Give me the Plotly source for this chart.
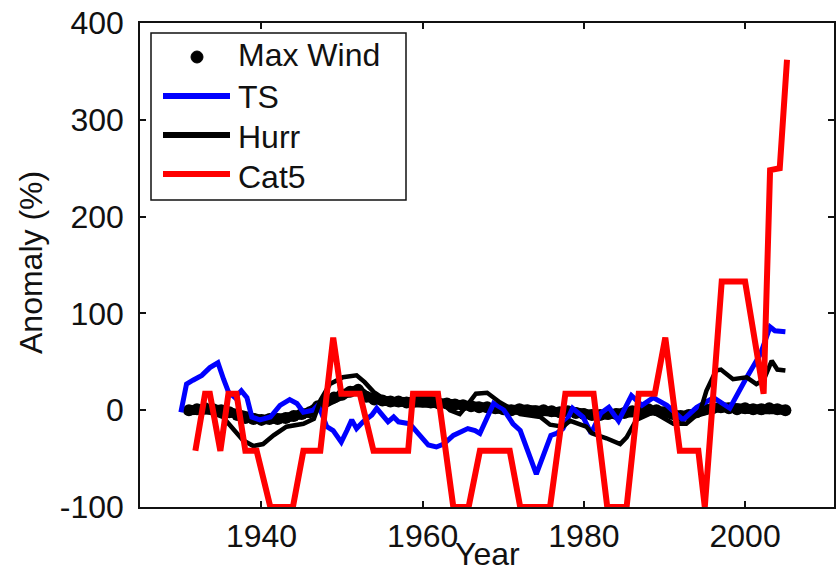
import plotly.graph_objects as go

# ---- data -----------------------------------------------------------------
# Max wind speed anomaly (%), annual
wind_years = list(range(1931, 2006))
max_wind = [0, 1, 2, 1, 0, -2, -5, -8, -9, -10,
            -9, -9, -8, -6, -4, -2, 4, 9, 13, 16,
            19, 21, 14, 11, 10, 9, 9, 8, 9, 9,
            8, 7, 7, 6, 5, 4, 3, 3, 2, 1,
            0, 1, 0, -1, 0, -1, -2, -1, -3, -4,
            -5, -5, -4, -4, -3, -1, 0, 1, 0, -2,
            -4, -6, -5, -2, 1, 2, 3, 2, 1, 2,
            1, 1, 2, 1, 0]

# Tropical storm count anomaly (%)
ts_years = [1930.0, 1930.7, 1931.5, 1932.6, 1933.6, 1934.6, 1935.3, 1935.9,
            1936.7, 1937.5, 1938.2, 1938.8, 1939.8, 1941.1, 1942.3, 1943.5,
            1944.4, 1945.2, 1946.4, 1947.0, 1947.5, 1948.1, 1948.9, 1949.9,
            1950.6, 1951.2, 1951.8, 1952.6, 1953.7, 1954.3, 1954.9, 1955.7,
            1956.4, 1957.0, 1958.4, 1959.5, 1960.7, 1961.7, 1962.6, 1963.8,
            1965.6, 1966.5, 1967.1, 1968.8, 1970.0, 1971.2, 1972.1, 1974.1,
            1975.9, 1976.6, 1977.4, 1978.6, 1979.9, 1980.9, 1982.1, 1983.1,
            1984.3, 1985.9, 1987.2, 1988.6, 1990.3, 1992.3, 1994.0, 1996.1,
            1998.1, 2000.0, 2001.9, 2003.1, 2003.7, 2005.0]
ts = [-2, 27, 31, 36, 44, 49, 32, 19,
      13, 20, 13, -7, -10, -7, 5, 11,
      7, -2, 0, 5, -4, -17, -21, -33,
      -21, -10, -19, -12, -5, 2, -4, -12,
      -7, -12, -14, -24, -36, -38, -35, -26,
      -19, -21, -24, 7, 1, -14, -21, -66,
      -26, -24, -19, 2, -7, -24, -3, 3,
      -11, 15, 5, 13, 5, -10, 3, 13,
      2, 31, 58, 86, 82, 81]

# Hurricane count anomaly (%)
hurr_years = [1931.4, 1933.0, 1934.3, 1935.2, 1936.3, 1937.7, 1939.0, 1940.2,
              1941.5, 1943.1, 1945.2, 1946.5, 1947.3, 1948.5, 1950.1, 1951.8,
              1952.8, 1953.9, 1955.5, 1957.5, 1959.7, 1961.9, 1963.4, 1964.6,
              1965.5, 1966.6, 1968.0, 1969.6, 1972.1, 1974.6, 1975.8, 1977.4,
              1978.3, 1980.3, 1981.0, 1982.8, 1984.5, 1985.3, 1986.5, 1988.6,
              1991.1, 1992.7, 1994.4, 1995.2, 1996.4, 1997.0, 1998.5, 2000.2,
              2001.4, 2002.3, 2003.3, 2004.0, 2005.0]
hurr = [2, -1, -4, -7, -17, -31, -37, -35,
        -26, -17, -14, -9, 10, 27, 34, 36,
        29, 19, 10, 10, 13, 12, 0, -4,
        5, 17, 18, 8, -4, -7, -15, -17,
        -11, -17, -24, -29, -35, -28, -10, -2,
        -14, -14, -2, 20, 41, 42, 32, 34,
        27, 31, 51, 42, 41]

# Category 5 count anomaly (%)
cat5_years = [1931.8, 1933.0, 1933.6, 1934.9, 1935.9, 1936.9, 1938.0, 1939.4,
              1941.1, 1943.9, 1945.2, 1947.3, 1948.9, 1949.9, 1952.2, 1953.9,
              1958.2, 1958.8, 1961.9, 1963.8, 1965.7, 1967.1, 1970.8, 1972.1,
              1975.8, 1977.7, 1981.2, 1982.9, 1985.3, 1986.8, 1988.8, 1990.1,
              1991.9, 1994.2, 1995.0, 1997.1, 2000.0, 2002.3, 2003.1, 2004.3,
              2005.2]
cat5 = [-42, 17, 17, -42, 17, 17, -42, -42,
        -100, -100, -42, -42, 75, 17, 17, -42,
        -42, 17, 17, -100, -100, -42, -42, -100,
        -100, 17, 17, -100, -100, 17, 17, 75,
        -42, -42, -100, 133, 133, 17, 248, 250,
        362]

x_ticks = [1940, 1960, 1980, 2000]
y_ticks = [-100, 0, 100, 200, 300, 400]
y_tick_text = ["-100", "0", "100", "200", "300", "400"]
legend_labels = ["Max Wind", "TS", "Hurr", "Cat5"]
x_title = "Year"
y_title = "Anomaly (%)"

FONT = "Liberation Sans, Arial, Helvetica, sans-serif"
INK = "#111111"

fig = go.Figure()
fig.add_trace(go.Scatter(x=wind_years, y=max_wind, mode="lines+markers",
                         name=legend_labels[0], showlegend=False,
                         line=dict(color="black", width=10),
                         marker=dict(color="black", size=12)))
fig.add_trace(go.Scatter(x=ts_years, y=ts, mode="lines", name=legend_labels[1],
                         showlegend=False, line=dict(color="#0000ff", width=5)))
fig.add_trace(go.Scatter(x=hurr_years, y=hurr, mode="lines", name=legend_labels[2],
                         showlegend=False, line=dict(color="black", width=4.5)))
fig.add_trace(go.Scatter(x=cat5_years, y=cat5, mode="lines", name=legend_labels[3],
                         showlegend=False, line=dict(color="#ff0000", width=6)))

# ---- boxed legend with long line samples, axis titles -------------------------
W, H = 836, 575
ML, MR, MT, MB = 140, 2, 23, 68
pw, ph = W - ML - MR, H - MT - MB


def px(x):
    return (x - ML) / pw


def py(y):
    return (H - MB - y) / ph


shapes = [dict(type="rect", xref="paper", yref="paper",
               x0=px(151), x1=px(406), y0=py(200), y1=py(33),
               line=dict(color=INK, width=1.5), fillcolor="white", layer="above")]
shapes.append(dict(type="circle", xref="paper", yref="paper",
                   x0=px(191), x1=px(203), y0=py(63), y1=py(51),
                   line=dict(color="black", width=1), fillcolor="black", layer="above"))
sample_colors = ["#0000ff", "black", "#ff0000"]
sample_rows = [96, 135, 174]
for c, r in zip(sample_colors, sample_rows):
    shapes.append(dict(type="line", xref="paper", yref="paper",
                       x0=px(163), x1=px(230), y0=py(r), y1=py(r),
                       line=dict(color=c, width=6), layer="above"))

text_font = dict(family=FONT, size=32, color=INK)
text_rows = [55, 97, 137, 177]
annotations = [dict(text=t, xref="paper", yref="paper", x=px(236), y=py(r),
                    xanchor="left", yanchor="middle", showarrow=False,
                    font=text_font)
               for t, r in zip(legend_labels, text_rows)]
annotations.append(dict(text=x_title, xref="paper", yref="paper",
                        x=px(487), y=py(574), xanchor="center", yanchor="bottom",
                        showarrow=False, font=text_font))
annotations.append(dict(text=y_title, xref="paper", yref="paper", textangle=-90,
                        x=px(31), y=py(263), xanchor="center", yanchor="middle",
                        showarrow=False, font=text_font))

axis_common = dict(showline=True, linecolor=INK, linewidth=1.5, mirror="ticks",
                   ticks="inside", ticklen=6, tickwidth=1.5, tickcolor=INK,
                   showgrid=False, zeroline=False, automargin=False,
                   tickfont=text_font)

fig.update_layout(
    width=W, height=H,
    margin=dict(l=ML, r=MR, t=MT, b=MB, pad=0),
    paper_bgcolor="white", plot_bgcolor="white",
    showlegend=False,
    shapes=shapes, annotations=annotations,
    xaxis=dict(range=[1924.93, 2011.03], tickvals=x_ticks, **axis_common),
    yaxis=dict(range=[-100, 400], tickvals=y_ticks, ticktext=y_tick_text,
               ticklabelstandoff=8, **axis_common),
)

fig.write_html("out.html")
